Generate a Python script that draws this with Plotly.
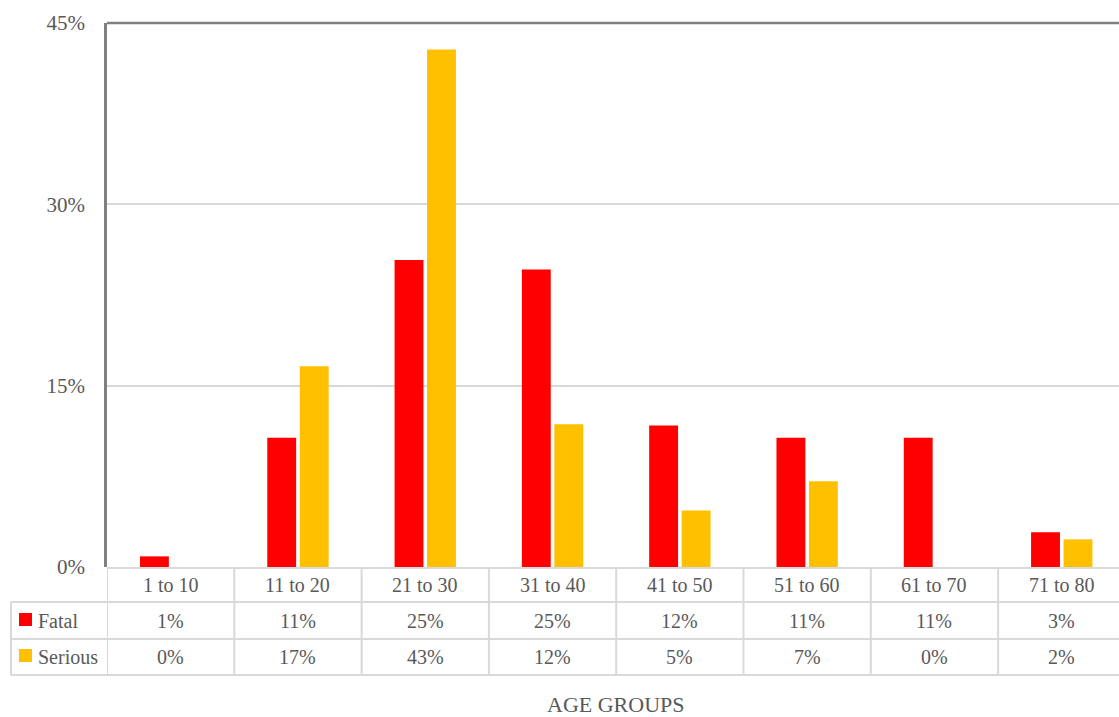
import plotly.graph_objects as go

categories = ["1 to 10", "11 to 20", "21 to 30", "31 to 40", "41 to 50", "51 to 60", "61 to 70", "71 to 80"]
fatal = [0.88, 10.7, 25.4, 24.6, 11.7, 10.7, 10.7, 2.87]
serious = [0.0, 16.6, 42.8, 11.8, 4.67, 7.09, 0.0, 2.29]
series_names = ["Fatal", "Serious"]
series_colors = ["#FF0000", "#FFC000"]
y_ticks = [0, 15, 30, 45]

FONT = "Liberation Serif"
TXT = "#595959"
GRID = "#D9D9D9"
AXIS = "#808080"

W, H = 1119, 717
L, R, T, B = 107, 0, 23, 150
plot_h = H - T - B
plot_w = W - L - R
cat_px = 127.3

def py(pix):
    return (H - B - pix) / plot_h

def px(pix):
    return (pix - L) / plot_w

fig = go.Figure()
for name, vals, col in zip(series_names, [fatal, serious], series_colors):
    fig.add_trace(go.Bar(x=list(range(len(categories))), y=vals, name=name,
                         marker=dict(color=col, line=dict(width=0))))

shapes = []
annotations = []
n = len(categories)
# top border
shapes.append(dict(type="line", xref="paper", yref="paper", x0=0, x1=1, y0=1, y1=1,
                   line=dict(color=AXIS, width=2.5)))
# table horizontal lines
shapes.append(dict(type="line", xref="paper", yref="paper", x0=0, x1=1, y0=py(568), y1=py(568),
                   line=dict(color=GRID, width=2)))
for yy in [602, 639, 675]:
    shapes.append(dict(type="line", xref="paper", yref="paper", x0=px(11), x1=1, y0=py(yy), y1=py(yy),
                       line=dict(color=GRID, width=2)))
# table vertical lines
shapes.append(dict(type="line", xref="paper", yref="paper", x0=px(11), x1=px(11), y0=py(602), y1=py(675),
                   line=dict(color=GRID, width=2)))
for k in range(n + 1):
    shapes.append(dict(type="line", xref="x", yref="paper", x0=k - 0.5, x1=k - 0.5, y0=py(568), y1=py(675),
                       line=dict(color=GRID, width=2)))

def ann(x, y, text, xref="x", xanchor="center", size=20):
    return dict(x=x, y=y, xref=xref, yref="paper", text=text, showarrow=False,
                xanchor=xanchor, yanchor="middle",
                font=dict(family=FONT, size=size, color=TXT))

# table text
row_y = [py(585), py(621), py(657)]
for i, c in enumerate(categories):
    annotations.append(ann(i, row_y[0], c))
    annotations.append(ann(i, row_y[1], f"{round(fatal[i])}%"))
    annotations.append(ann(i, row_y[2], f"{round(serious[i])}%"))

# legend keys in table
for j, (name, col) in enumerate(zip(series_names, series_colors)):
    cy = [619.5, 655.5][j]
    shapes.append(dict(type="rect", xref="paper", yref="paper", x0=px(19), x1=px(32),
                       y0=py(cy - 6.5), y1=py(cy + 6.5), fillcolor=col, line=dict(width=0)))
    annotations.append(ann(px(36), row_y[j + 1], name, xref="paper", xanchor="left"))

# axis title
annotations.append(ann((n - 1) / 2, py(704), "AGE GROUPS", size=22))

fig.update_layout(
    width=W, height=H,
    margin=dict(l=L, r=R, t=T, b=B, pad=0),
    paper_bgcolor="white", plot_bgcolor="white",
    barmode="group", bargap=0.49, bargroupgap=0.11,
    showlegend=False,
    shapes=shapes, annotations=annotations,
    xaxis=dict(range=[-0.5, -0.5 + plot_w / cat_px], showticklabels=False, showgrid=False,
               zeroline=False, showline=False, ticks=""),
    yaxis=dict(range=[0, 45], tickvals=y_ticks, ticktext=[f"{v}%" for v in y_ticks],
               showgrid=True, gridcolor=GRID, gridwidth=2, zeroline=False,
               showline=True, linecolor=AXIS, linewidth=2.5, ticks="",
               ticklabelstandoff=15,
               tickfont=dict(family=FONT, size=21, color=TXT)),
)

fig.write_html("out.html", config={"displayModeBar": False},
               post_script="document.body.style.margin='0';document.body.style.overflow='hidden';")
